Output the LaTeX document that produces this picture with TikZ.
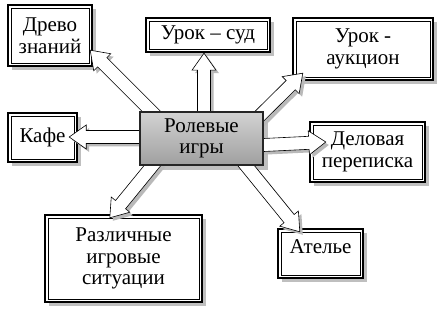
\documentclass[tikz,border=0pt]{standalone}
\usepackage{fontspec}
\setmainfont{Liberation Serif}
\usetikzlibrary{calc}
\pgfdeclarelayer{background}
\pgfdeclarelayer{front}
\pgfsetlayers{background,main,front}
\tikzset{
  box/.style={align=center, inner sep=2pt,
    font=\fontsize{21}{21.5}\selectfont},
  central/.style={draw=black!85, line width=1.8pt, align=center,
    top color=gray!35, middle color=white, bottom color=gray!75,
    font=\fontsize{21}{21.5}\selectfont},
  boxshadow/.style={fill=gray!50},
  outerframe/.style={draw=black, fill=white, line width=1.6pt},
  innerframe/.style={draw=black, line width=0.6pt},
  arrshadow/.style={fill=gray!55, draw=none},
  arrbody/.style={draw=black, fill=white, line width=0.6pt, line join=miter}
}
\newcommand\frameit[1]{%
  \path[boxshadow] ($(#1.north west)+(4,4)$) rectangle ($(#1.south east)+(4,4)$);
  \path[outerframe] (#1.north west) rectangle (#1.south east);
  \path[innerframe] ($(#1.north west)+(3.2,3.2)$) rectangle ($(#1.south east)+(-3.2,-3.2)$);
}
\newcommand\arrowpath[2]{($(#1)!6.5pt!90:(#2)$) -- ($(hb)!6.5pt!90:(#2)$) -- ($(hb)!12pt!90:(#2)$) -- (#2) -- ($(hb)!12pt!-90:(#2)$) -- ($(hb)!6.5pt!-90:(#2)$) -- ($(#1)!6.5pt!-90:(#2)$) -- cycle}
\newcommand\blockarrow[2]{%
  \coordinate (hb) at ($(#2)!17pt!(#1)$);
  \path[arrshadow, transform canvas={shift={(3pt,-3pt)}}] \arrowpath{#1}{#2};
  \path[arrbody] \arrowpath{#1}{#2};
}
\begin{document}
\begin{tikzpicture}[x=1pt,y=-1pt]
\useasboundingbox (0,0) rectangle (440,313);

\begin{pgfonlayer}{front}
\node[box, minimum width=84pt, minimum height=61pt] (drevo) at (50,35.5) {Древо\\знаний};
\node[box, minimum width=124pt, minimum height=34pt] (sud) at (208,35) {Урок – суд};
\node[box, minimum width=140pt, minimum height=62pt] (auk) at (363,49) {Урок -\\аукцион};
\node[box, minimum width=69pt, minimum height=49pt] (kafe) at (42.5,137.5) {Кафе};
\node[box, minimum width=115pt, minimum height=60pt] (delo) at (367.5,152) {Деловая\\переписка};
\node[box, minimum width=157pt, minimum height=87pt] (razl) at (123.5,258.5) {Различные\\игровые\\ситуации};
\node[box, minimum width=85pt, minimum height=49pt, text depth=14pt] (atel) at (320.5,253.5) {Ателье};
\node[central, minimum width=123pt, minimum height=53pt] (c) at (201.5,138.5) {Ролевые\\игры};
\end{pgfonlayer}

\begin{pgfonlayer}{background}
\fill[white] (0,0) rectangle (440,313);
\frameit{drevo}
\frameit{sud}
\frameit{auk}
\frameit{kafe}
\frameit{delo}
\frameit{razl}
\frameit{atel}
\end{pgfonlayer}

\path[boxshadow] ($(c.north west)+(4,4)$) rectangle ($(c.south east)+(4,4)$);

% start points (inside the central node) and tips
\coordinate (s1) at ($(c.north west)+(17,5)$);
\coordinate (s2) at ($(c.north)+(2.5,10)$);
\coordinate (s3) at ($(c.north east)+(-8.5,9)$);
\coordinate (s4) at ($(c.west)+(10,-1.5)$);
\coordinate (s5) at ($(c.east)+(-10.5,7)$);
\coordinate (s6) at ($(c.south west)+(18,-6)$);
\coordinate (s7) at ($(c.south east)+(-22.5,-6)$);

\coordinate (t1) at ($(drevo.south east)+(-2,-16)$);
\coordinate (t2) at ($(sud.south)+(-4,1)$);
\coordinate (t3) at ($(auk.south west)+(10,-7)$);
\coordinate (t4) at ($(kafe.east)+(-8,-0.5)$);
\coordinate (t5) at ($(delo.west)+(16,-10)$);
\coordinate (t6) at ($(razl.north west)+(65,3)$);
\coordinate (t7) at ($(atel.north west)+(22,3)$);

\blockarrow{s1}{t1}
\blockarrow{s2}{t2}
\blockarrow{s3}{t3}
\blockarrow{s4}{t4}
\blockarrow{s5}{t5}
\blockarrow{s6}{t6}
\blockarrow{s7}{t7}
\end{tikzpicture}
\end{document}
